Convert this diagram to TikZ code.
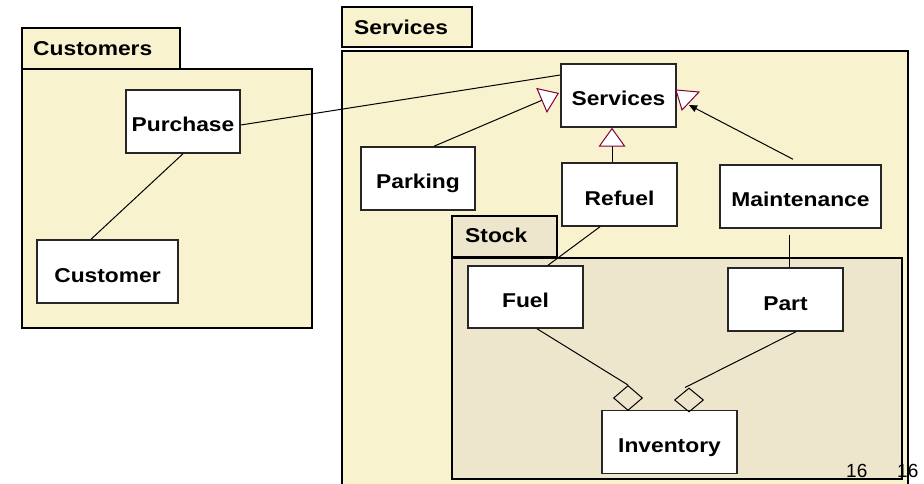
\documentclass[tikz,border=0pt]{standalone}
\usepackage{fontspec}
\setmainfont{Liberation Sans}[FakeStretch=1.14]
\newfontfamily\numfont{Liberation Sans}
\usetikzlibrary{arrows.meta,shapes.geometric}
\definecolor{pkgyellow}{RGB}{248,243,206}
\definecolor{stockbeige}{RGB}{237,230,204}
\definecolor{genred}{RGB}{128,0,64}
\tikzset{
  pkg/.style={draw=black, line width=2pt, fill=pkgyellow},
  stockpkg/.style={pkg, fill=stockbeige},
  pkgname/.style={anchor=base west, inner sep=0pt, font=\bfseries\fontsize{20}{24}\selectfont},
  cls/.style={draw=black!85, line width=1.5pt, fill=white, inner sep=0pt,
    minimum width=115pt, minimum height=63pt, text height=21pt, text depth=0pt,
    font=\bfseries\fontsize{20}{24}\selectfont},
  link/.style={line width=1pt},
  gen/.style={link, -{Triangle[length=19pt, width=27pt, fill=white, color=genred]}},
  genhead/.style={draw=genred, fill=white, line width=1pt, line join=miter},
  agg/.style={diamond, draw, line width=1pt, inner sep=0pt, minimum width=29pt, minimum height=25pt},
  pagenum/.style={anchor=base west, inner sep=0pt, font=\numfont\fontsize{19}{22}\selectfont}
}
\begin{document}
\begin{tikzpicture}[x=1pt, y=-1pt]
            \useasboundingbox (0,0) rectangle (924,484);
            \clip (0,0) rectangle (924,484);

            % Paquete Customers
            \draw[pkg] (22,28) rectangle (180,69);
            \draw[pkg] (22,69) rectangle (312,328);
            \node[pkgname] (custname) at (33,56) {Customers};

            % Paquete Services
            \draw[pkg] (342,7) rectangle (472,47);
            \draw[pkg] (342,51) rectangle (908,500);
            \node[pkgname] (svcname) at (354,35) {Services};

            % Paquete Stock
            \draw[stockpkg] (452,216) rectangle (557,257);
            \draw[stockpkg] (452,258) rectangle (902,479);
            \node[pkgname] (stockname) at (465,242) {Stock};

            % Clases
            \node[cls, minimum width=114pt] (purch) at (183,121.5) {Purchase};
            \node[cls, minimum width=141pt] (cust) at (107.5,271.5) {Customer};
            \node[cls] (svc) at (618.5,95.5) {Services};
            \node[cls, minimum width=114pt] (parking) at (418,178.5) {Parking};
            \node[cls] (refuel) at (619.5,194.5) {Refuel};
            \node[cls, minimum width=161pt] (maint) at (800.5,196.5) {Maintenance};
            \node[cls, minimum height=62pt] (fuel) at (525.5,297) {Fuel};
            \node[cls] (part) at (785.5,299.5) {Part};
            \node[cls, minimum width=135pt] (inv) at (669.5,442) {Inventory};

            % Rombos de agregación
            \node[agg] (aggfuel) at (628,398) {};
            \node[agg, minimum height=24pt] (aggpart) at (689,400) {};

            % Asociaciones
            \draw[link] ([yshift=-3.5pt]purch.east) -- ([yshift=20.5pt]svc.west);
            \draw[link] (purch.south) -- ([xshift=-16.5pt]cust.north);
            \draw[link] ([xshift=-19.5pt]refuel.south) -- ([xshift=22.5pt]fuel.north);
            \draw[link] ([xshift=-11.5pt,yshift=-6pt]maint.south) -- ([xshift=3.5pt]part.north);
            \draw[link] ([xshift=11.5pt]fuel.south) -- (aggfuel.north);
            \draw[link] ([xshift=10.5pt]part.south) -- ([xshift=-4pt]aggpart.north);

            % Generalizaciones
            \coordinate (parktip) at (559,93);
            \draw[gen] ([xshift=16pt]parking.north) -- (parktip);
            \draw[gen] ([xshift=-7.5pt]refuel.north) -- ([xshift=-6.5pt]svc.south);
            \draw[genhead] (676,90) -- (699,92) -- (682,110) -- cycle;

            % Flecha desde Maintenance
            \coordinate (mainttip) at (689,105);
            \draw[link, -{Triangle[length=8pt, width=7pt]}] ([xshift=-7.5pt,yshift=5pt]maint.north) -- (mainttip);

            % Números de página
            \foreach \x/\n in {846/pga, 897/pgb} {
                \node[pagenum] (\n) at (\x,477) {16};
            }
        \end{tikzpicture}
\end{document}
